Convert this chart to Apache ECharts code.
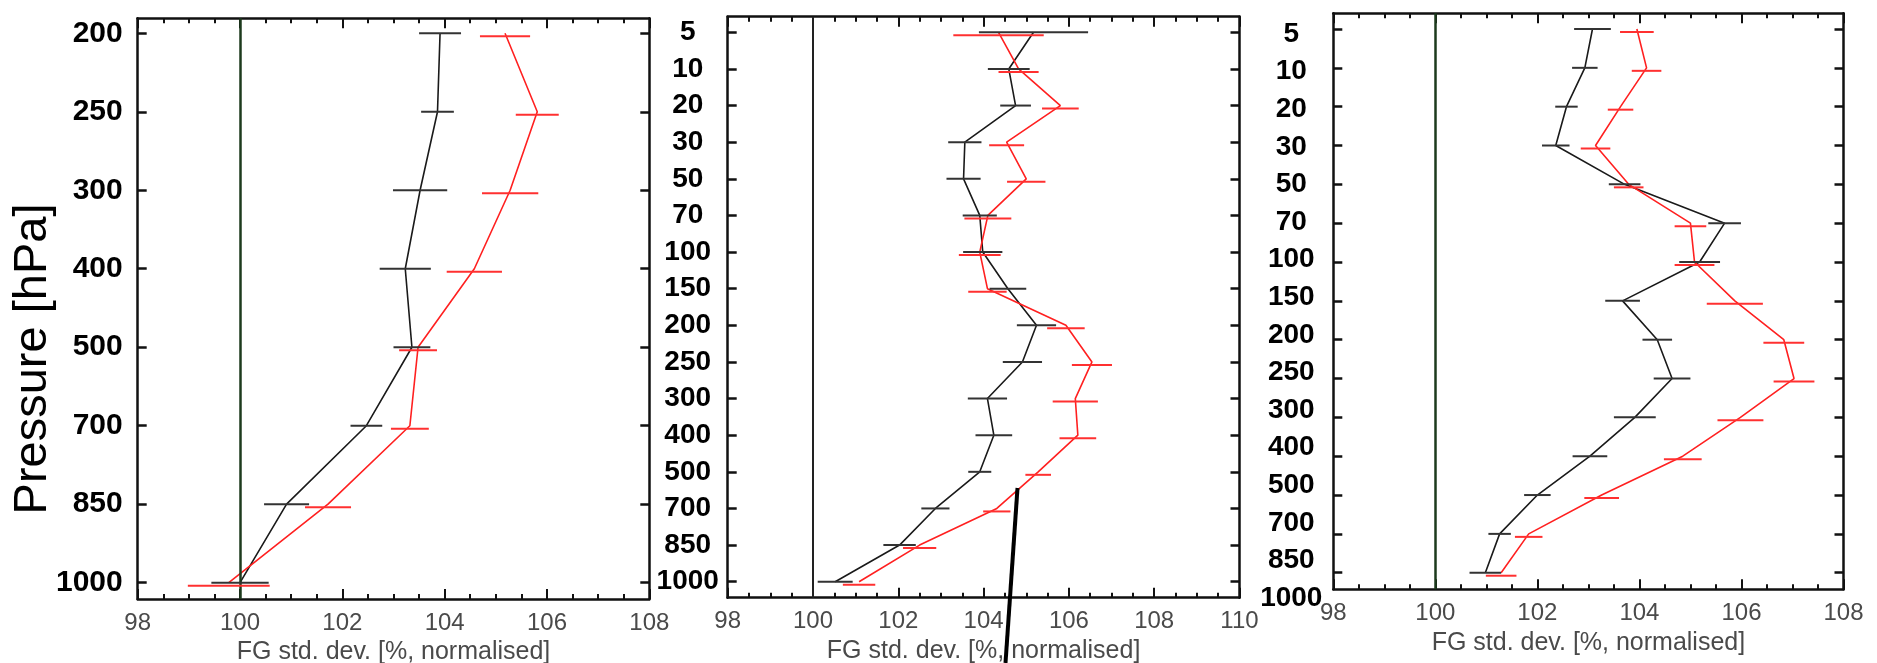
<!DOCTYPE html>
<html><head><meta charset="utf-8">
<script src="https://cdn.jsdelivr.net/npm/echarts@6/dist/echarts.min.js"></script>
<style>html,body{margin:0;padding:0;background:#fff}#c{width:1877px;height:663px}</style>
</head><body><div id="c"></div>
<script>
// ---------- DATA ----------
const levels1 = ['200','250','300','400','500','700','850','1000'];
const p1Black    = [103.91, 103.86, 103.52, 103.23, 103.36, 102.47, 100.91, 100.00];
const p1BlackErr = [0.41, 0.32, 0.53, 0.50, 0.36, 0.31, 0.44, 0.56];
const p1Red      = [105.18, 105.81, 105.28, 104.58, 103.48, 103.32, 101.72, 99.78];
const p1RedErr   = [0.49, 0.42, 0.55, 0.54, 0.37, 0.37, 0.45, 0.80];

const levels2 = ['5','10','20','30','50','70','100','150','200','250','300','400','500','700','850','1000'];
const p2Black    = [105.17, 104.59, 104.75, 103.56, 103.53, 103.91, 103.98, 104.57, 105.24, 104.91, 104.09, 104.24, 103.91, 102.87, 102.03, 100.52];
const p2BlackErr = [1.28, 0.49, 0.36, 0.39, 0.40, 0.40, 0.46, 0.43, 0.46, 0.46, 0.46, 0.43, 0.27, 0.33, 0.38, 0.41];
const p2Red      = [104.35, 104.82, 105.80, 104.54, 105.00, 104.10, 103.91, 104.09, 105.93, 106.54, 106.15, 106.21, 105.28, 104.31, 102.50, 101.08];
const p2RedErr   = [1.06, 0.47, 0.43, 0.41, 0.45, 0.55, 0.49, 0.45, 0.44, 0.47, 0.53, 0.43, 0.30, 0.32, 0.39, 0.38];

const levels3 = ['5','10','20','30','50','70','100','150','200','250','300','400','500','700','850'];
const labels3 = ['5','10','20','30','50','70','100','150','200','250','300','400','500','700','850','1000'];
const p3Black    = [103.08, 102.93, 102.57, 102.36, 103.71, 105.67, 105.18, 103.67, 104.35, 104.64, 103.91, 103.03, 102.00, 101.26, 100.98];
const p3BlackErr = [0.36, 0.25, 0.22, 0.27, 0.31, 0.32, 0.40, 0.34, 0.29, 0.36, 0.41, 0.34, 0.26, 0.22, 0.31];
const p3Red      = [103.95, 104.14, 103.63, 103.14, 103.79, 105.00, 105.08, 105.87, 106.83, 107.03, 105.98, 104.85, 103.26, 101.83, 101.29];
const p3RedErr   = [0.33, 0.29, 0.25, 0.29, 0.29, 0.31, 0.39, 0.55, 0.40, 0.40, 0.45, 0.37, 0.34, 0.27, 0.30];

const xTitle = 'FG std. dev. [%, normalised]';
const yTitle = 'Pressure [hPa]';
const refValue = 100;
const xRanges = [[98,108],[98,110],[98,108]];

// ---------- LAYOUT / STYLE ----------
const FONT = "'Liberation Sans', Arial, Helvetica, sans-serif";
const panels = [
  {levels: levels1, black: p1Black, bErr: p1BlackErr, red: p1Red, rErr: p1RedErr,
   grid: {left:137.7, top:18.3, width:511.6, height:580.7}, yMin:-0.191, yMax:7.208,
   labelFont:30, labelAlign:'right', labelMargin:15, refColor:'#1d3a1d', refWidth:2.5},
  {levels: levels2, black: p2Black, bErr: p2BlackErr, red: p2Red, rErr: p2RedErr,
   grid: {left:727.7, top:16.7, width:511.8, height:581}, yMin:-0.426, yMax:15.437,
   labelFont:28, labelAlign:'center', labelMargin:40, refColor:'#222', refWidth:2},
  {levels: levels3, black: p3Black, bErr: p3BlackErr, red: p3Red, rErr: p3RedErr,
   grid: {left:1333.3, top:13.3, width:510.2, height:576}, yMin:-0.404, yMax:14.427,
   labelFont:28, labelAlign:'center', labelMargin:42, refColor:'#1d3a1d', refWidth:2.5, hideLabels:true}
];

const grids = [], xAxes = [], yAxes = [], series = [];
const AX = '#111';

function errRender(color, off) {
  return function (params, api) {
    const x = api.value(0), hw = api.value(1), y = api.value(2);
    const a = api.coord([x - hw, y]), b = api.coord([x + hw, y]);
    return {type:'line', shape:{x1:a[0], y1:a[1]+off, x2:b[0], y2:b[1]+off},
            style:{stroke:color, lineWidth:2}};
  };
}

panels.forEach((p, i) => {
  grids.push(Object.assign({containLabel:false, outerBoundsMode:'none'}, p.grid));
  const [xmin, xmax] = xRanges[i];
  const baseX = {gridIndex:i, type:'value', min:xmin, max:xmax, interval:2,
    axisLine:{show:true, onZero:false, lineStyle:{color:AX, width:2.5}},
    axisTick:{show:true, inside:true, length:10, lineStyle:{color:AX, width:2}},
    minorTick:{show:true, splitNumber:4, length:5, lineStyle:{color:AX, width:2}},
    splitLine:{show:false}};
  xAxes.push(Object.assign({}, baseX, {position:'bottom',
    axisLabel:{show:true, fontFamily:FONT, fontSize:24, color:'#4a4a4a', margin:12},
    name: xTitle, nameLocation:'middle', nameGap:39,
    nameTextStyle:{fontFamily:FONT, fontSize:25, color:'#4a4a4a'}}));
  xAxes.push(Object.assign({}, baseX, {position:'top', axisLabel:{show:false}}));
  const idx = p.levels.map((_, k) => k);
  const baseY = {gridIndex:i, type:'value', min:p.yMin, max:p.yMax, inverse:true,
    axisLine:{show:true, onZero:false, lineStyle:{color:AX, width:2.5}},
    axisTick:{show:true, inside:true, length:9, customValues: idx, lineStyle:{color:AX, width:2.5}},
    splitLine:{show:false}};
  yAxes.push(Object.assign({}, baseY, {position:'left',
    axisLabel:{show:!p.hideLabels, customValues: idx, formatter: v => p.levels[Math.round(v)],
      fontFamily:FONT, fontWeight:'bold', fontSize:p.labelFont, color:'#000',
      align:p.labelAlign, margin:p.labelMargin}}));
  yAxes.push(Object.assign({}, baseY, {position:'right', axisLabel:{show:false}}));

  const xi = 2*i, yi = 2*i;
  series.push({type:'line', xAxisIndex:xi, yAxisIndex:yi, symbol:'none', z:3,
    data: p.black.map((v,k)=>[v,k]), lineStyle:{color:'#1a1a1a', width:1.6},
    markLine:{silent:true, symbol:'none', label:{show:false}, animation:false,
      lineStyle:{color:p.refColor, width:p.refWidth, type:'solid'}, data:[{xAxis:refValue}]}});
  series.push({type:'line', xAxisIndex:xi, yAxisIndex:yi, symbol:'none', z:4,
    data: p.red.map((v,k)=>[v,k]), lineStyle:{color:'#ff2020', width:1.6}});
  series.push({type:'custom', xAxisIndex:xi, yAxisIndex:yi, z:5,
    renderItem: errRender('#333', 0), encode:{x:0, y:2},
    data: p.black.map((v,k)=>[v, p.bErr[k], k])});
  series.push({type:'custom', xAxisIndex:xi, yAxisIndex:yi, z:6,
    renderItem: errRender('#ff3030', 3), encode:{x:0, y:2},
    data: p.red.map((v,k)=>[v, p.rErr[k], k])});
});

// Panel 3 pressure labels are spaced on their own (16 labels incl. 1000 below the frame)
grids.push({left:1333.3, top:34, width:510, height:564, containLabel:false, outerBoundsMode:'none'});
xAxes.push({gridIndex:3, type:'value', show:false, min:0, max:1});
yAxes.push({gridIndex:3, type:'value', min:0, max:labels3.length-1, inverse:true,
  axisLine:{show:false}, axisTick:{show:false}, splitLine:{show:false},
  axisLabel:{show:true, customValues: labels3.map((_,k)=>k), formatter: v => labels3[Math.round(v)],
    fontFamily:FONT, fontWeight:'bold', fontSize:28, color:'#000', align:'center', margin:42}});

const chart = echarts.init(document.getElementById('c'), null, {renderer:'canvas'});
chart.setOption({
  animation:false,
  backgroundColor:'#fff',
  grid: grids, xAxis: xAxes, yAxis: yAxes, series: series,
  graphic: [
    {type:'text', x:33, y:359, rotation:Math.PI/2,
     style:{text:yTitle, fontFamily:FONT, fontSize:47, fill:'#000', align:'center', verticalAlign:'middle'}},
    {type:'line', shape:{x1:1017.5, y1:488, x2:1005.5, y2:663}, style:{stroke:'#000', lineWidth:4}, z:100}
  ]
});
</script>
</body></html>
